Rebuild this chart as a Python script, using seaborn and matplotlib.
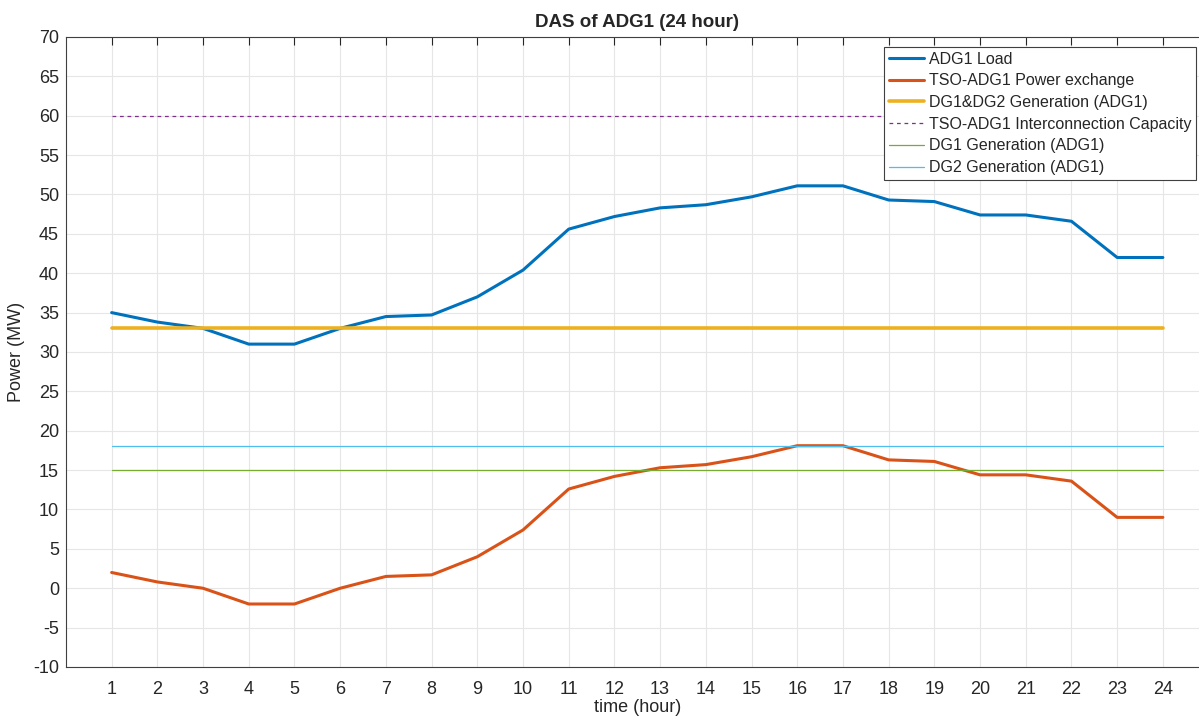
import numpy as np
import pandas as pd
import seaborn as sns
import matplotlib.pyplot as plt

hours = list(range(1, 25))
adg1_load = [35.0, 33.8, 33.0, 31.0, 31.0, 33.0, 34.5, 34.7, 37.0, 40.4, 45.6, 47.2,
             48.3, 48.7, 49.7, 51.1, 51.1, 49.3, 49.1, 47.4, 47.4, 46.6, 42.0, 42.0]
tso_exchange = [2.0, 0.8, 0.0, -2.0, -2.0, 0.0, 1.5, 1.7, 4.0, 7.4, 12.6, 14.2,
                15.3, 15.7, 16.7, 18.1, 18.1, 16.3, 16.1, 14.4, 14.4, 13.6, 9.0, 9.0]
dg_total = [33] * 24
interconnection_cap = [60] * 24
dg1_gen = [15] * 24
dg2_gen = [18] * 24

series = [
    ("ADG1 Load", adg1_load, "#0072BD", 2.2, "-"),
    ("TSO-ADG1 Power exchange", tso_exchange, "#D95319", 2.2, "-"),
    ("DG1&DG2 Generation (ADG1)", dg_total, "#EDB120", 2.6, "-"),
    ("TSO-ADG1 Interconnection Capacity", interconnection_cap, "#7E2F8E", 0.9, (0, (3, 3))),
    ("DG1 Generation (ADG1)", dg1_gen, "#77AC30", 0.9, "-"),
    ("DG2 Generation (ADG1)", dg2_gen, "#4DBEEE", 0.9, "-"),
]

sns.set_style("whitegrid")
plt.rcParams['font.family'] = ['Liberation Sans', 'DejaVu Sans']
plt.rcParams['axes.unicode_minus'] = False

fig = plt.figure(figsize=(11.99, 7.21), dpi=100)
ax = fig.add_axes([0.055, 0.0749, 0.953, 0.8738])

for name, vals, color, lw, ls in series:
    df = pd.DataFrame({"time": hours, "power": vals})
    sns.lineplot(data=df, x="time", y="power", ax=ax, color=color, linewidth=lw,
                 linestyle=ls, label=name)

ax.set_xlim(0, 25)
ax.set_ylim(-10, 70)
ax.set_xticks(hours)
ax.set_yticks(np.arange(-10, 71, 5))
ax.grid(True, color="#e6e6e6", linewidth=0.8)
ax.tick_params(direction="in", length=6, width=0.8, colors="#262626",
               labelsize=13, top=True, right=True)
ax.tick_params(axis="y", pad=5)
ax.tick_params(axis="x", pad=10)
for s in ax.spines.values():
    s.set_color("#404040")
    s.set_linewidth(0.8)

ax.set_xlabel("time (hour)", fontsize=13, color="#262626", labelpad=1)
ax.set_ylabel("Power (MW)", fontsize=13, color="#262626", labelpad=6)
ax.set_title("DAS of ADG1 (24 hour)", fontsize=13.5, fontweight="bold", pad=7)

leg = ax.legend(loc="upper right", bbox_to_anchor=(0.9975, 0.935),
                bbox_transform=fig.transFigure, fontsize=11.5, frameon=True,
                fancybox=False, framealpha=1, edgecolor="#404040",
                handlelength=2.2, handletextpad=0.3, labelspacing=0.42,
                borderpad=0.3, borderaxespad=0)
leg.get_frame().set_linewidth(0.8)

fig.savefig("out.png", dpi=100)
